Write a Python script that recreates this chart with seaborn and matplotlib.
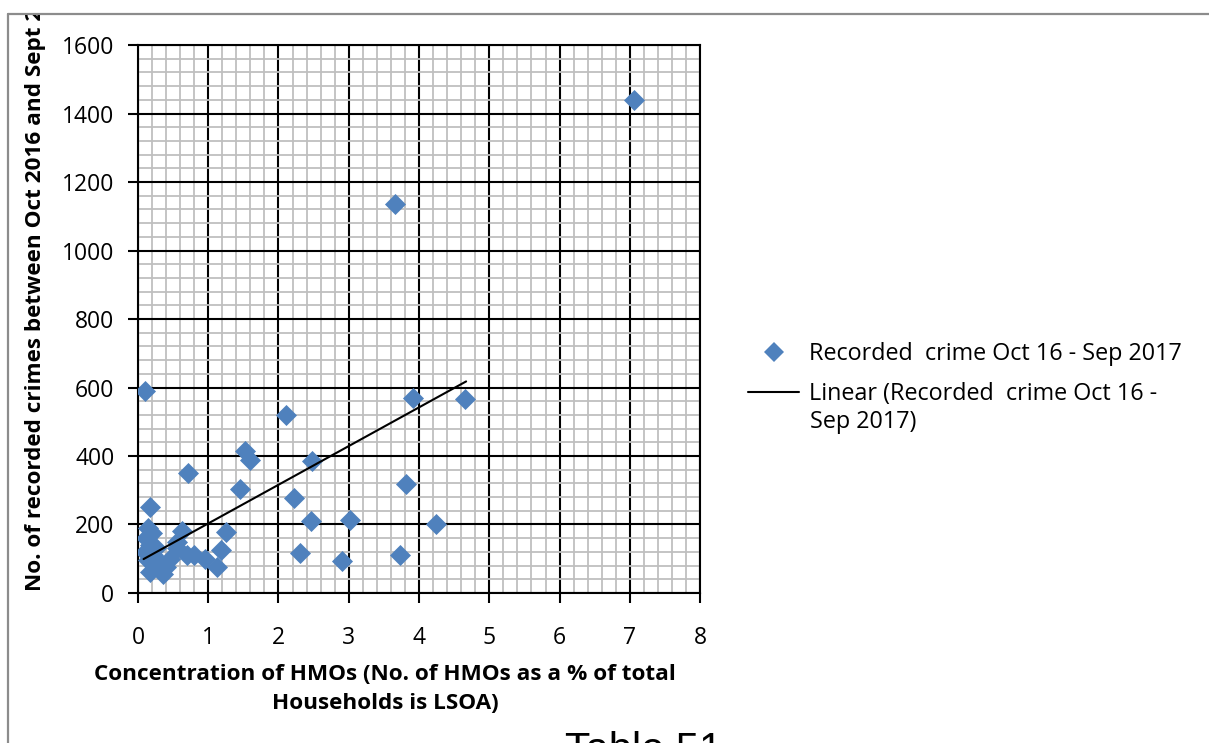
import numpy as np
import pandas as pd
import matplotlib
matplotlib.use('Agg')
import matplotlib.pyplot as plt
import seaborn as sns
from matplotlib.lines import Line2D
from matplotlib.ticker import MultipleLocator
from matplotlib.transforms import Bbox, TransformedBbox

# HMO concentration (%) and recorded crimes per LSOA
hmo_pct = [0.10, 0.17, 0.15, 0.20, 0.12, 0.17, 0.10, 0.22, 0.15, 0.25,
           0.17, 0.35, 0.30, 0.45, 0.55, 0.62, 0.55, 0.70, 0.71, 0.80,
           0.95, 1.12, 1.18, 1.25, 0.40, 0.25,
           1.45, 1.52, 1.60, 2.10, 2.22, 2.31, 2.46, 2.48, 2.90, 3.02,
           3.66, 3.73, 3.81, 3.91, 4.24, 4.65, 7.06]
crimes = [590, 250, 190, 175, 160, 140, 120, 110, 95, 80,
          60, 55, 90, 100, 150, 180, 130, 110, 350, 110,
          100, 75, 125, 178, 75, 130,
          303, 416, 388, 520, 276, 116, 210, 385, 92, 213,
          1135, 110, 317, 570, 201, 567, 1440]

# linear trendline as drawn in the chart
trend_intercept = 90
trend_slope = 113
trend_x = [0.08, 4.67]

series_label = 'Recorded  crime Oct 16 - Sep 2017'
trend_label = 'Linear (Recorded  crime Oct 16 -'

df = pd.DataFrame({'hmo': hmo_pct, 'crimes': crimes})

sns.set_style('white')
plt.rcParams['font.family'] = ['Open Sans', 'DejaVu Sans']
plt.rcParams['text.color'] = 'black'
plt.rcParams['xtick.labelcolor'] = 'black'
plt.rcParams['ytick.labelcolor'] = 'black'

fig = plt.figure(figsize=(12.09, 7.43), dpi=100)
ax = fig.add_axes([0.1141, 0.2019, 0.4650, 0.7375])

blue = '#4f81bd'
sns.scatterplot(data=df, x='hmo', y='crimes', marker='D', s=115, color=blue,
                linewidth=0, ax=ax, zorder=3, legend=False)
tx = np.array(trend_x)
ax.plot(tx, trend_intercept + trend_slope * tx, color='black', lw=1.5, zorder=4)

ax.set_xlim(0, 8)
ax.set_ylim(0, 1600)
ax.xaxis.set_major_locator(MultipleLocator(1))
ax.xaxis.set_minor_locator(MultipleLocator(0.2))
ax.yaxis.set_major_locator(MultipleLocator(200))
ax.yaxis.set_minor_locator(MultipleLocator(40))
ax.grid(which='minor', color='#bfbfbf', lw=1.3)
ax.grid(which='major', color='black', lw=1.5)
ax.set_axisbelow(True)
for sp in ax.spines.values():
    sp.set_color('black')
    sp.set_linewidth(1.5)
ax.tick_params(which='major', direction='out', length=7, width=1.5, color='black',
               labelsize=16.5, labelcolor='black', left=True, bottom=True)
ax.tick_params(axis='y', pad=10)
ax.tick_params(axis='x', pad=17)
ax.tick_params(which='minor', length=0)
ax.set_xlabel('')
ax.set_ylabel('')

# axis titles
fig.text(385 / 1209, 1 - 689 / 743,
         'Concentration of HMOs (No. of HMOs as a % of total\nHouseholds is LSOA)',
         ha='center', va='center', fontsize=16.2, fontweight='bold', linespacing=1.5)
clip = TransformedBbox(Bbox([[0, 0], [1, 1 - 15 / 743]]), fig.transFigure)
fig.text(36 / 1209, 1 - 591 / 743,
         'No. of recorded crimes between Oct 2016 and Sept 2017',
         rotation=90, ha='center', va='bottom', fontsize=16.2, fontweight='bold',
         clip_on=True, clip_box=clip)

# legend
handles = [Line2D([], [], marker='D', ls='none', color=blue, markersize=10.5,
                  markeredgewidth=0),
           Line2D([], [], color='black', lw=1.5)]
fig.legend(handles, [series_label, trend_label], loc='upper left',
           bbox_to_anchor=(748 / 1209, 1 - 342 / 743), frameon=False,
           fontsize=16.8, handlelength=2.2, handletextpad=0.4, labelspacing=0.7,
           borderpad=0, borderaxespad=0)
fig.text(810 / 1209, 1 - 422 / 743, 'Sep 2017)', fontsize=16.8, va='center')

# page caption cut off at the bottom of the image
fig.text(565 / 1209, 1 - 731 / 743, 'Table 51', fontsize=30, va='top',
         family='Liberation Sans')

# outer frame of the page
fig.add_artist(Line2D([8 / 1209, 8 / 1209], [0, 1 - 14 / 743],
                      transform=fig.transFigure, color='#8c8c8c', lw=1.6))
fig.add_artist(Line2D([8 / 1209, 1], [1 - 14 / 743, 1 - 14 / 743],
                      transform=fig.transFigure, color='#8c8c8c', lw=1.6))

fig.savefig('out.png', dpi=100)
